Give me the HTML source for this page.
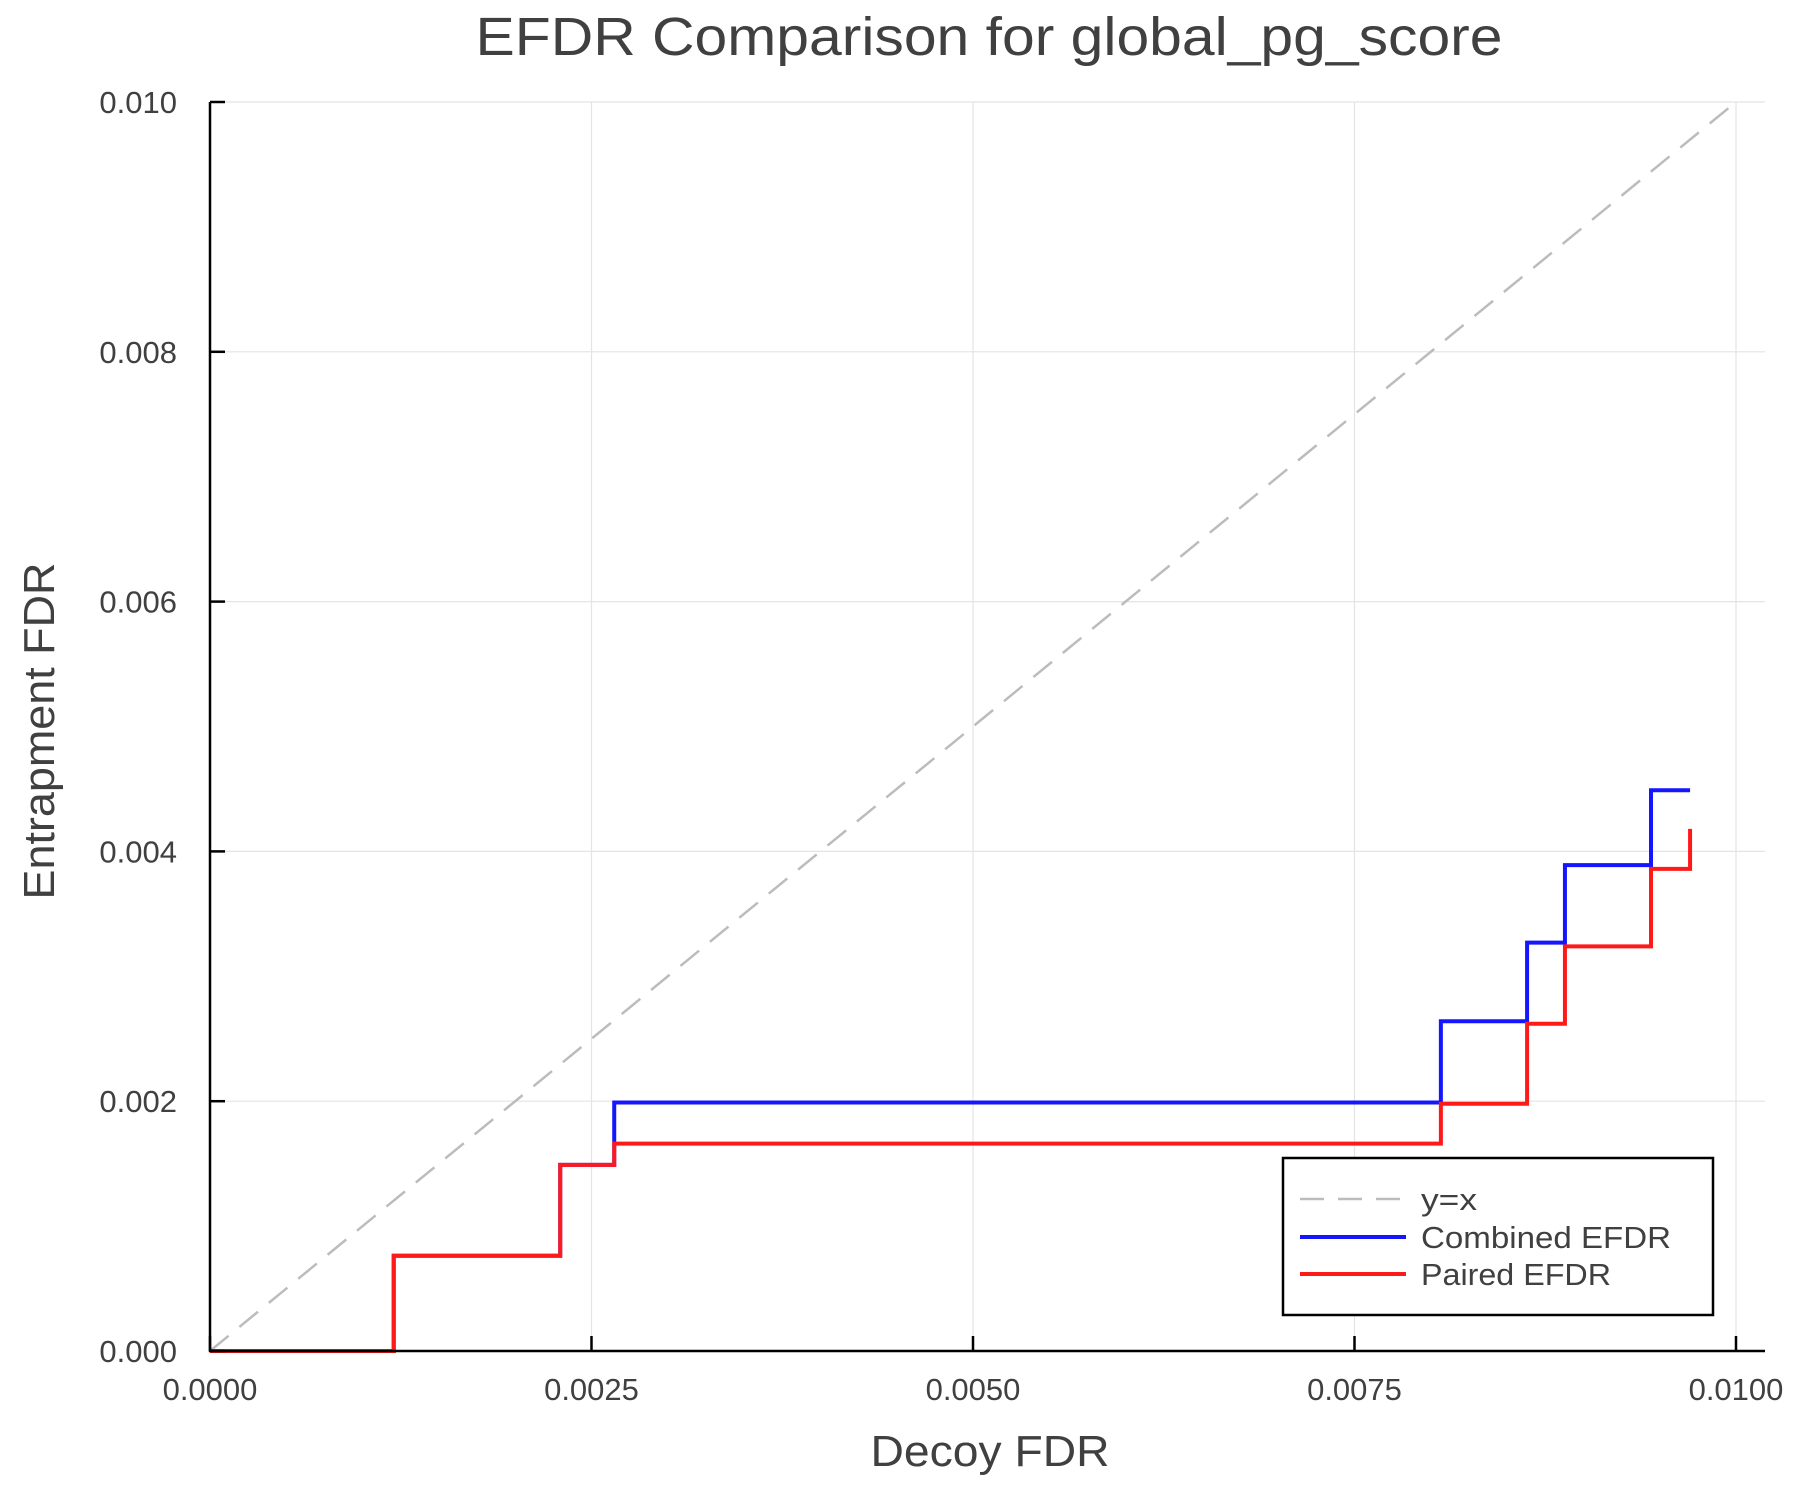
<!DOCTYPE html>
<html><head><meta charset="utf-8"><style>body{margin:0;background:#fff}svg{display:block}</style></head>
<body>
<svg id="s" width="1800" height="1500" xmlns="http://www.w3.org/2000/svg" font-family="Liberation Sans, sans-serif" fill="#404040">
<g id="grid" stroke="#e4e4e4" stroke-width="1.2"></g>
<line x1="210" y1="1351" x2="1736" y2="102" stroke="#bcbcbc" stroke-width="2.5" stroke-dasharray="24,14"/>
<polyline id="blue" fill="none" stroke="#1515ff" stroke-width="4"/>
<polyline id="red" fill="none" stroke="#ff1a1a" stroke-width="4"/>
<g id="axes" stroke="#000" stroke-width="2.5"></g>
<g id="labels" font-size="31"></g>
<text x="989" y="55" font-size="54" text-anchor="middle" textLength="1027" lengthAdjust="spacingAndGlyphs">EFDR Comparison for global_pg_score</text>
<text x="990" y="1466" font-size="44" text-anchor="middle" textLength="239" lengthAdjust="spacingAndGlyphs">Decoy FDR</text>
<text transform="translate(54,731) rotate(-90)" font-size="44" text-anchor="middle" textLength="337" lengthAdjust="spacingAndGlyphs">Entrapment FDR</text>
<rect x="1283" y="1158" width="430" height="157" fill="#fff" stroke="#000" stroke-width="2.5"/>
<line x1="1300" y1="1199" x2="1406" y2="1199" stroke="#bcbcbc" stroke-width="2.5" stroke-dasharray="24,14"/>
<line x1="1300" y1="1237" x2="1406" y2="1237" stroke="#1515ff" stroke-width="4"/>
<line x1="1300" y1="1274" x2="1406" y2="1274" stroke="#ff1a1a" stroke-width="4"/>
<text x="1421" y="1210" font-size="31" textLength="56" lengthAdjust="spacingAndGlyphs">y=x</text>
<text x="1421" y="1248" font-size="31" textLength="250" lengthAdjust="spacingAndGlyphs">Combined EFDR</text>
<text x="1421" y="1285" font-size="31" textLength="190" lengthAdjust="spacingAndGlyphs">Paired EFDR</text>
</svg>
<script>
const X=v=>210+v/0.01*1526, Y=v=>1351-v/0.01*1249;
const NS="http://www.w3.org/2000/svg";
function el(p,t,a,txt){const e=document.createElementNS(NS,t);for(const k in a)e.setAttribute(k,a[k]);if(txt)e.textContent=txt;document.getElementById(p).appendChild(e);}
const xt=[0,0.0025,0.005,0.0075,0.01],xl=["0.0000","0.0025","0.0050","0.0075","0.0100"];
const yt=[0,0.002,0.004,0.006,0.008,0.01],yl=["0.000","0.002","0.004","0.006","0.008","0.010"];
xt.forEach((v,i)=>{el("grid","line",{x1:X(v),y1:102,x2:X(v),y2:1351});el("axes","line",{x1:X(v),y1:1351,x2:X(v),y2:1336});
 el("labels","text",{x:X(v),y:1400,"text-anchor":"middle"},xl[i]);});
yt.forEach((v,i)=>{el("grid","line",{x1:210,y1:Y(v),x2:1765,y2:Y(v)});el("axes","line",{x1:210,y1:Y(v),x2:225,y2:Y(v)});
 el("labels","text",{x:177,y:Y(v)+11,"text-anchor":"end"},yl[i]);});
el("axes","line",{x1:210,y1:102,x2:210,y2:1352});el("axes","line",{x1:209,y1:1351,x2:1765,y2:1351});
function steps(xs,ys){let p=[];for(let i=0;i<ys.length;i++){p.push(X(xs[i])+","+Y(ys[i]));p.push(X(xs[i+1])+","+Y(ys[i]));}return p.join(" ");}
const xs=[0,0.001204,0.002295,0.002649,0.008066,0.008631,0.008879,0.009443,0.009699];
document.getElementById("blue").setAttribute("points",steps(xs,[0,0.000763,0.00149,0.00199,0.00264,0.00327,0.00389,0.00449]));
let r=steps(xs,[0,0.000763,0.00149,0.00166,0.00198,0.00262,0.00324,0.00386])+" "+X(0.009699)+","+Y(0.00418);
document.getElementById("red").setAttribute("points",r);
</script>
</body></html>
